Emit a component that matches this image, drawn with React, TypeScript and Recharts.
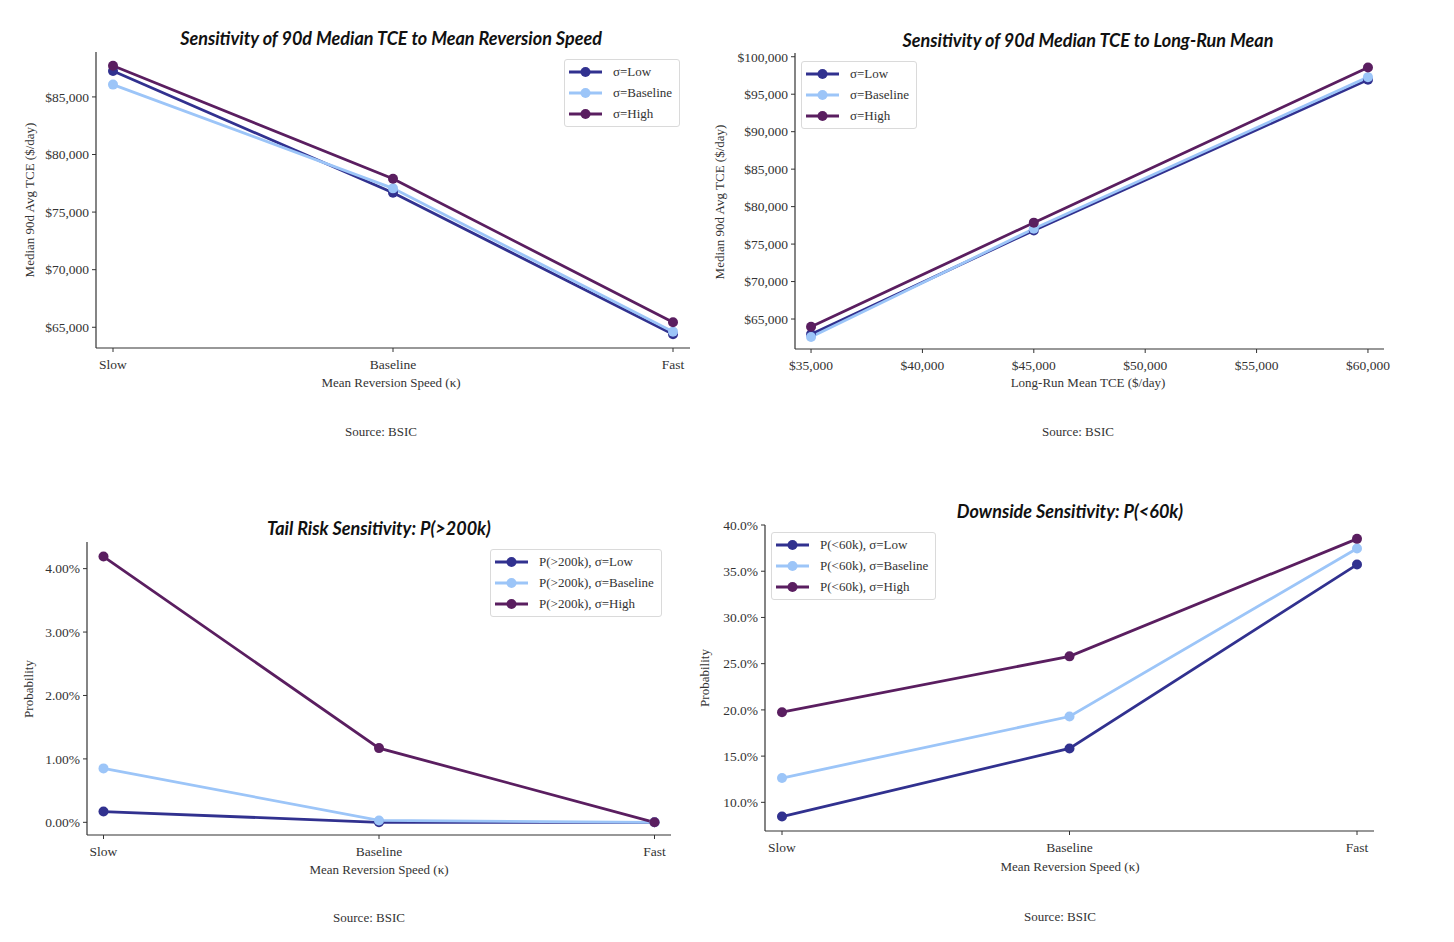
import React from 'react';
import { LineChart, Line, XAxis, YAxis, Legend } from 'recharts';

// values
const speedCategories = ['Slow', 'Baseline', 'Fast'];
const tceSpeedLow = [87250, 76680, 64390];
const tceSpeedBase = [86070, 77060, 64620];
const tceSpeedHigh = [87710, 77890, 65430];

const longRunMeans = [35000, 45000, 60000];
const tceMeanLow = [62950, 76830, 96920];
const tceMeanBase = [62590, 77050, 97280];
const tceMeanHigh = [63970, 77860, 98570];

const tailLow = [0.17, 0.0, 0.0];
const tailBase = [0.85, 0.03, 0.0];
const tailHigh = [4.19, 1.17, 0.0];

const downLow = [8.46, 15.83, 35.72];
const downBase = [12.63, 19.28, 37.45];
const downHigh = [19.75, 25.79, 38.5];

const tceSpeedTicks = [65000, 70000, 75000, 80000, 85000];
const tceMeanXTicks = [35000, 40000, 45000, 50000, 55000, 60000];
const tceMeanYTicks = [65000, 70000, 75000, 80000, 85000, 90000, 95000, 100000];
const tailTicks = [0, 1, 2, 3, 4];
const downTicks = [10, 15, 20, 25, 30, 35, 40];

const seriesKeys = ['low', 'base', 'high'] as const;
const COLORS = { low: '#31318f', base: '#9cc5f8', high: '#5a1e60' };
const SERIF = '"Liberation Serif", "DejaVu Serif", serif';
const SANS = 'Lato, "Open Sans", sans-serif';
const INK = '#333';

const dollars = (v: number) => `$${v.toLocaleString('en-US')}`;

const build = (xs: (string | number)[], low: number[], base: number[], high: number[]) =>
  xs.map((x, i) => ({ x, low: low[i], base: base[i], high: high[i] }));

const speedData = build(speedCategories, tceSpeedLow, tceSpeedBase, tceSpeedHigh);
const meanData = build(longRunMeans, tceMeanLow, tceMeanBase, tceMeanHigh);
const tailData = build(speedCategories, tailLow, tailBase, tailHigh);
const downData = build(speedCategories, downLow, downBase, downHigh);

const LegendBox = ({ payload }: any) => {
  // keep the plotting order (Low, Baseline, High) rather than alphabetical
  const items = [...(payload || [])].sort(
    (a: any, b: any) => seriesKeys.indexOf(a.dataKey) - seriesKeys.indexOf(b.dataKey)
  );
  return (
    <div
      style={{
        border: '1px solid #dadada',
        borderRadius: 3,
        background: 'rgba(255,255,255,0.85)',
        padding: '1px 7px 2px 2px',
        fontFamily: SERIF,
        fontSize: 13,
        color: INK,
        whiteSpace: 'nowrap',
      }}
    >
      {items.map((p: any) => (
        <div key={p.value} style={{ display: 'flex', alignItems: 'center', height: 21 }}>
          <svg width={36} height={12}>
            <line x1={2} y1={6} x2={35} y2={6} stroke={p.color} strokeWidth={2.8} />
            <circle cx={18.5} cy={6} r={5} fill={p.color} />
          </svg>
          <span style={{ marginLeft: 10 }}>{p.value}</span>
        </div>
      ))}
    </div>
  );
};

type Box = { x: number; y: number; w: number; h: number };
type Plot = { left: number; top: number; right: number; bottom: number };

interface PanelProps {
  box: Box;
  plot: Plot;
  data: any[];
  numericX?: boolean;
  xDomain?: [number, number];
  xTicks?: number[];
  xPad?: number;
  yDomain: [number, number];
  yTicks: number[];
  fmtX?: (v: any) => string;
  fmtY: (v: number) => string;
  names: [string, string, string];
  legendAt: { x: number; y: number };
}

const Panel = (p: PanelProps) => {
  const { box, plot } = p;
  const tick = { fontFamily: SERIF, fontSize: 13.5, fill: INK };
  return (
    <div style={{ position: 'absolute', left: box.x, top: box.y }}>
      <LineChart
        width={box.w}
        height={box.h}
        data={p.data}
        margin={{ top: plot.top - box.y, right: box.x + box.w - plot.right, left: 0, bottom: 0 }}
      >
        {p.numericX ? (
          <XAxis
            dataKey="x"
            type="number"
            domain={p.xDomain}
            ticks={p.xTicks}
            tickFormatter={p.fmtX}
            height={box.y + box.h - plot.bottom}
            tick={tick}
            tickSize={4}
            tickMargin={7}
            axisLine={{ stroke: INK, strokeWidth: 1.2 }}
            tickLine={{ stroke: INK }}
          />
        ) : (
          <XAxis
            dataKey="x"
            interval={0}
            padding={{ left: p.xPad || 0, right: p.xPad || 0 }}
            height={box.y + box.h - plot.bottom}
            tick={tick}
            tickSize={4}
            tickMargin={7}
            axisLine={{ stroke: INK, strokeWidth: 1.2 }}
            tickLine={{ stroke: INK }}
          />
        )}
        <YAxis
          type="number"
          domain={p.yDomain}
          ticks={p.yTicks}
          tickFormatter={p.fmtY}
          width={plot.left - box.x}
          tick={tick}
          tickSize={4}
          tickMargin={3}
          axisLine={{ stroke: INK, strokeWidth: 1.2 }}
          tickLine={{ stroke: INK }}
        />
        <Legend
          layout="vertical"
          align="center"
          verticalAlign="middle"
          itemSorter={null as any}
          content={<LegendBox />}
          wrapperStyle={{ left: p.legendAt.x - box.x, top: p.legendAt.y - box.y, width: 'auto' }}
        />
        {seriesKeys.map((k, i) => (
          <Line
            key={k}
            type="linear"
            dataKey={k}
            name={p.names[i]}
            stroke={COLORS[k]}
            strokeWidth={2.8}
            dot={{ r: 5, fill: COLORS[k], stroke: COLORS[k], strokeWidth: 0 }}
            activeDot={false}
            isAnimationActive={false}
          />
        ))}
      </LineChart>
    </div>
  );
};

const Text = ({ x, y, children, size = 13, rotate = false, title = false }: any) => (
  <div
    style={{
      position: 'absolute',
      left: x,
      top: y,
      transform: `translate(-50%, -50%)${rotate ? ' rotate(-90deg)' : ''}`,
      whiteSpace: 'nowrap',
      fontFamily: title ? SANS : SERIF,
      fontWeight: title ? 700 : 400,
      fontStyle: title ? 'italic' : 'normal',
      fontSize: size,
      color: title ? '#111' : INK,
    }}
  >
    {children}
  </div>
);

const sigmaNames: [string, string, string] = ['σ=Low', 'σ=Baseline', 'σ=High'];

export default function App() {
  return (
    <div style={{ position: 'absolute', left: 0, top: 0, width: 1454, height: 942, background: '#fff' }}>
      <Panel
        box={{ x: 0, y: 20, w: 700, h: 400 }}
        plot={{ left: 96, top: 52, right: 690, bottom: 348 }}
        data={speedData}
        xPad={17}
        yDomain={[63200, 88900]}
        yTicks={tceSpeedTicks}
        fmtY={dollars}
        names={sigmaNames}
        legendAt={{ x: 564, y: 59 }}
      />
      <Panel
        box={{ x: 700, y: 20, w: 754, h: 400 }}
        plot={{ left: 795, top: 53, right: 1384, bottom: 349 }}
        data={meanData}
        numericX
        xDomain={[34280, 60720]}
        xTicks={tceMeanXTicks}
        fmtX={dollars}
        yDomain={[61000, 100500]}
        yTicks={tceMeanYTicks}
        fmtY={dollars}
        names={sigmaNames}
        legendAt={{ x: 801, y: 61 }}
      />
      <Panel
        box={{ x: 0, y: 510, w: 700, h: 410 }}
        plot={{ left: 87, top: 542, right: 671, bottom: 835 }}
        data={tailData}
        xPad={16.5}
        yDomain={[-0.2, 4.42]}
        yTicks={tailTicks}
        fmtY={(v) => `${v.toFixed(2)}%`}
        names={['P(>200k), σ=Low', 'P(>200k), σ=Baseline', 'P(>200k), σ=High']}
        legendAt={{ x: 490, y: 549 }}
      />
      <Panel
        box={{ x: 700, y: 495, w: 754, h: 420 }}
        plot={{ left: 765, top: 525, right: 1374, bottom: 831 }}
        data={downData}
        xPad={17}
        yDomain={[6.9, 40]}
        yTicks={downTicks}
        fmtY={(v) => `${v.toFixed(1)}%`}
        names={['P(<60k), σ=Low', 'P(<60k), σ=Baseline', 'P(<60k), σ=High']}
        legendAt={{ x: 771, y: 532 }}
      />

      <Text x={391} y={38} size={18} title>Sensitivity of 90d Median TCE to Mean Reversion Speed</Text>
      <Text x={1088} y={40} size={18} title>Sensitivity of 90d Median TCE to Long-Run Mean</Text>
      <Text x={379} y={528} size={18} title>Tail Risk Sensitivity: P(&gt;200k)</Text>
      <Text x={1070} y={511} size={18} title>Downside Sensitivity: P(&lt;60k)</Text>

      <Text x={391} y={383}>Mean Reversion Speed (κ)</Text>
      <Text x={1088} y={383}>Long-Run Mean TCE ($/day)</Text>
      <Text x={379} y={870}>Mean Reversion Speed (κ)</Text>
      <Text x={1070} y={867}>Mean Reversion Speed (κ)</Text>

      <Text x={30} y={200} rotate>Median 90d Avg TCE ($/day)</Text>
      <Text x={720} y={202} rotate>Median 90d Avg TCE ($/day)</Text>
      <Text x={29} y={689} rotate>Probability</Text>
      <Text x={705} y={678} rotate>Probability</Text>

      <Text x={381} y={432}>Source: BSIC</Text>
      <Text x={1078} y={432}>Source: BSIC</Text>
      <Text x={369} y={918}>Source: BSIC</Text>
      <Text x={1060} y={917}>Source: BSIC</Text>
    </div>
  );
}
